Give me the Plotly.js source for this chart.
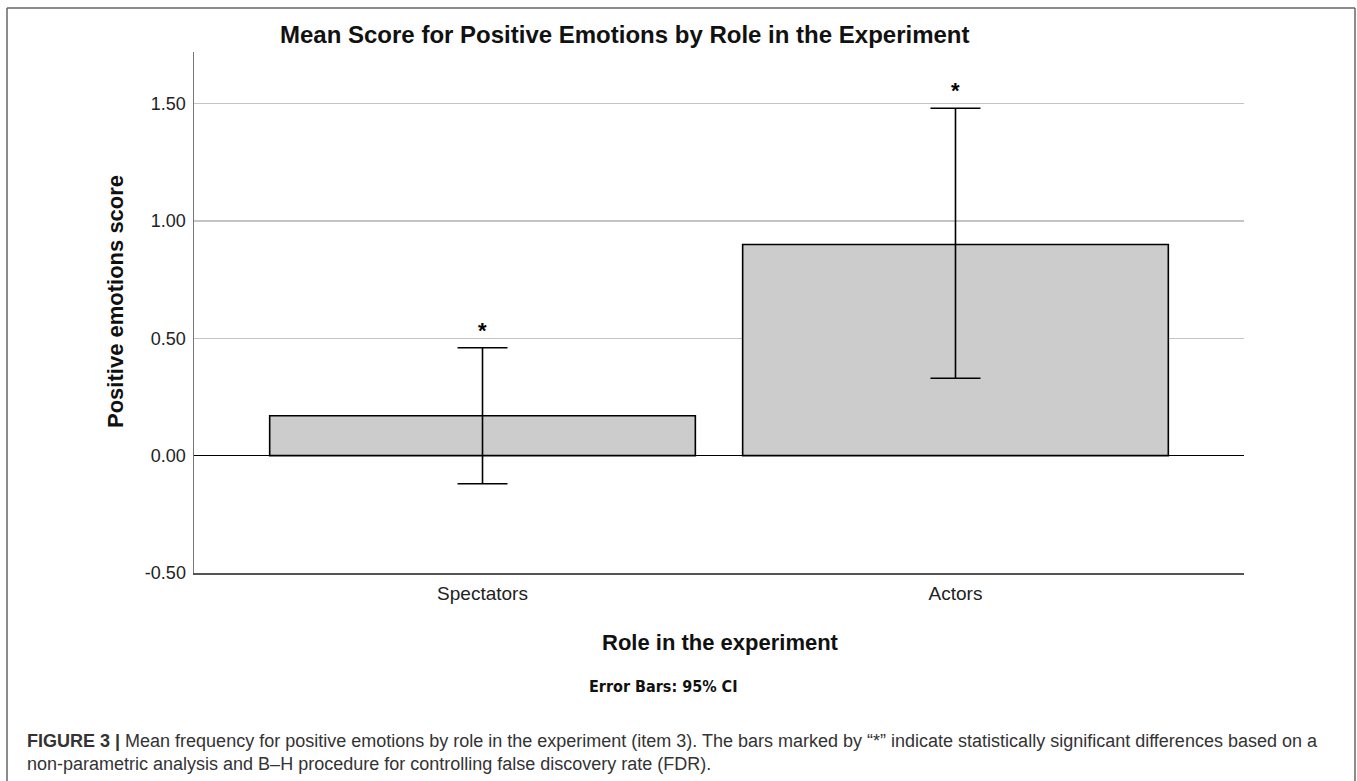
<!DOCTYPE html>
<html>
<head>
<meta charset="utf-8">
<script src="https://cdn.plot.ly/plotly-3.0.1.min.js"></script>
<style>
  html, body { margin: 0; padding: 0; background: #fff; }
  #chart { width: 1357px; height: 781px; }
</style>
</head>
<body>
<div id="chart"></div>
<script>
// Roles and mean positive-emotion scores with 95% confidence limits
const roles = ['Spectators', 'Actors'];
const meanScore = [0.17, 0.90];
const ciLower = [-0.12, 0.33];
const ciUpper = [0.46, 1.48];
const significant = ['*', '*'];
const yTicks = [-0.5, 0, 0.5, 1.0, 1.5];
const yTickText = ['-0.50', '0.00', '0.50', '1.00', '1.50'];

// plot-area geometry (pixels) used to place paper-referenced text and the frame
const W = 1357, H = 781;
const L = 194, R = 1244, T = 52, B = 573;
const px = x => (x - L) / (R - L);
const py = y => (B - y) / (B - T);

const FONT = '"Liberation Sans", Arial, sans-serif';

const bars = {
  type: 'bar',
  x: roles,
  y: meanScore,
  width: 0.9,
  marker: { color: '#cccccc', line: { color: '#000000', width: 1.6 } },
  error_y: {
    type: 'data',
    symmetric: false,
    array: meanScore.map((m, i) => ciUpper[i] - m),
    arrayminus: meanScore.map((m, i) => m - ciLower[i]),
    color: '#000000',
    thickness: 1.6,
    width: 25
  },
  hoverinfo: 'skip',
  showlegend: false
};

const annotations = [];

// significance markers above the upper confidence limits
roles.forEach((r, i) => {
  annotations.push({
    x: r, y: ciUpper[i], xref: 'x', yref: 'y',
    text: '<b>' + significant[i] + '</b>',
    showarrow: false, yanchor: 'bottom', yshift: 3,
    font: { family: FONT, size: 22, color: '#000' }
  });
});

annotations.push(
  {
    text: '<b>Mean Score for Positive Emotions by Role in the Experiment</b>',
    xref: 'paper', yref: 'paper', x: px(624), y: py(35),
    xanchor: 'center', yanchor: 'middle', showarrow: false,
    font: { family: FONT, size: 24, color: '#111' }
  },
  {
    text: '<b>Positive emotions score</b>',
    xref: 'paper', yref: 'paper', x: px(115), y: py(302),
    xanchor: 'center', yanchor: 'middle', textangle: -90, showarrow: false,
    font: { family: FONT, size: 22, color: '#111' }
  },
  {
    text: '<b>Role in the experiment</b>',
    xref: 'paper', yref: 'paper', x: px(720), y: py(642),
    xanchor: 'center', yanchor: 'middle', showarrow: false,
    font: { family: FONT, size: 22, color: '#111' }
  },
  {
    text: '<b>Error Bars: 95% CI</b>',
    xref: 'paper', yref: 'paper', x: px(663), y: py(686),
    xanchor: 'center', yanchor: 'middle', showarrow: false,
    font: { family: '"DejaVu Sans Condensed", "Liberation Sans Narrow", sans-serif', size: 16, color: '#111' }
  },
  {
    text: '<b>FIGURE 3 |</b> Mean frequency for positive emotions by role in the experiment (item 3). The bars marked by “*” indicate statistically significant differences based on a<br>non-parametric analysis and B–H procedure for controlling false discovery rate (FDR).',
    xref: 'paper', yref: 'paper', x: px(25), y: py(729),
    xanchor: 'left', yanchor: 'top', align: 'left', showarrow: false,
    font: { family: FONT, size: 18, color: '#333' }
  }
);

// figure frame: top edge plus the two side edges running off the bottom
const frameColor = '#666';
const shapes = [
  { type: 'line', xref: 'paper', yref: 'paper', x0: px(7), x1: px(1355), y0: py(8), y1: py(8), line: { color: frameColor, width: 1.5 } },
  { type: 'line', xref: 'paper', yref: 'paper', x0: px(7), x1: px(7), y0: py(8), y1: py(H + 5), line: { color: frameColor, width: 1.5 } },
  { type: 'line', xref: 'paper', yref: 'paper', x0: px(1355), x1: px(1355), y0: py(8), y1: py(H + 5), line: { color: frameColor, width: 1.5 } }
];

const layout = {
  width: W, height: H,
  margin: { l: L, r: W - R, t: T, b: H - B, pad: 0 },
  paper_bgcolor: '#ffffff',
  plot_bgcolor: '#ffffff',
  showlegend: false,
  xaxis: {
    type: 'category',
    range: [-0.61, 1.61],
    showgrid: false,
    zeroline: false,
    showline: true, linecolor: '#555', linewidth: 1.5,
    ticks: '', ticklabelstandoff: 3,
    tickfont: { family: FONT, size: 19, color: '#222' },
    fixedrange: true
  },
  yaxis: {
    range: [-0.5, 1.72],
    tickvals: yTicks, ticktext: yTickText,
    showgrid: true, gridcolor: '#c4c4c4', gridwidth: 1.2,
    zeroline: true, zerolinecolor: '#000', zerolinewidth: 1.6,
    showline: true, linecolor: '#777', linewidth: 1.5,
    ticks: '', ticklabelstandoff: 3,
    tickfont: { family: FONT, size: 18, color: '#222' },
    fixedrange: true
  },
  annotations: annotations,
  shapes: shapes
};

Plotly.newPlot('chart', [bars], layout, { displayModeBar: false, staticPlot: true });
</script>
</body>
</html>
